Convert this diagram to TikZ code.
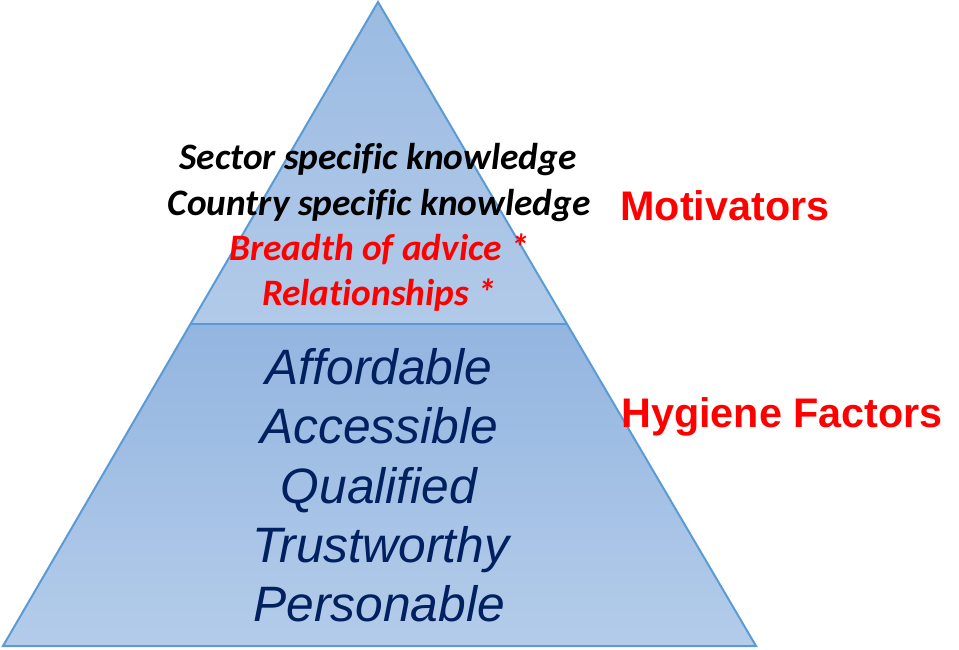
\documentclass[tikz,border=0pt]{standalone}
\usepackage{fontspec}
\setmainfont{Liberation Sans}
\newfontfamily\calib[Ligatures=NoCommon]{Carlito}
\definecolor{edgeblue}{HTML}{5B9BD5}
\definecolor{navy}{HTML}{002060}
\definecolor{redtxt}{HTML}{FF0000}
\definecolor{topA}{HTML}{9BBBE2}
\definecolor{topB}{HTML}{B2CAE9}
\definecolor{botA}{HTML}{93B5E0}
\definecolor{botB}{HTML}{B4CCEA}
\begin{document}
\begin{tikzpicture}[x=0.75pt,y=-0.75pt,
  upper/.style={anchor=base,inner sep=0pt,font=\calib\bfseries\itshape\fontsize{28}{30}\selectfont},
  lower/.style={anchor=base,inner sep=0pt,text=navy,font=\itshape\fontsize{37.3}{40}\selectfont},
  label/.style={anchor=base,inner sep=0pt,text=redtxt,font=\bfseries\fontsize{31}{34}\selectfont}]
\useasboundingbox (0,0) rectangle (959,649);
\coordinate (apex) at (378,2);
\coordinate (bl) at (3,646);
\coordinate (br) at (756,646);
\coordinate (ml) at (190.5,324);
\coordinate (mr) at (567,324);
\shade[top color=topA,bottom color=topB] (apex) -- (mr) -- (ml) -- cycle;
\shade[top color=botA,bottom color=botB] (ml) -- (mr) -- (br) -- (bl) -- cycle;
\draw[edgeblue,line width=1.5pt,line join=miter] (apex) -- (br) -- (bl) -- cycle;
\draw[edgeblue,line width=1.2pt] (ml) -- (mr);
\node[upper] (s1) at (378,170) {Sector specific knowledge};
\node[upper] (s2) at (379,215) {Country specific knowledge};
\node[upper,text=redtxt] (s3) at (379,260) {Breadth of advice *};
\node[upper,text=redtxt] (s4) at (379,305) {Relationships *};
\node[lower] (h1) at (379,384) {Affordable};
\node[lower] (h2) at (379,443) {Accessible};
\node[lower] (h3) at (379,503) {Qualified};
\node[lower] (h4) at (381,562) {Trustworthy};
\node[lower] (h5) at (379,621) {Personable};
\node[label] (mot) at (725,220) {Motivators};
\node[label] (hyg) at (782,427) {Hygiene Factors};
\end{tikzpicture}
\end{document}
